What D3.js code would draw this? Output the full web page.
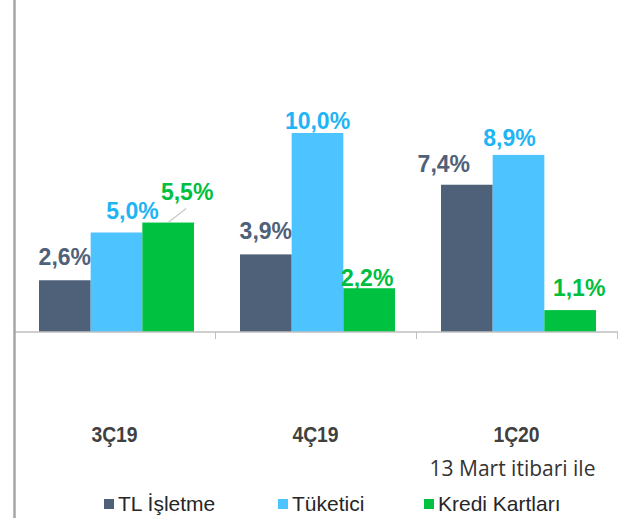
<!DOCTYPE html>
<html><head><meta charset="utf-8">
<script src="https://cdn.jsdelivr.net/npm/d3@7/dist/d3.min.js"></script>
<style>html,body{margin:0;padding:0;background:#fff;}svg{display:block;}</style>
</head><body>
<svg id="chart" width="618" height="518"></svg>
<script>
const categories = ["3Ç19", "4Ç19", "1Ç20"];
const seriesNames = ["TL İşletme", "Tüketici", "Kredi Kartları"];
const tlIsletme = [2.6, 3.9, 7.4];
const tuketici = [5.0, 10.0, 8.9];
const krediKartlari = [5.5, 2.2, 1.1];
const valueLabels = [["2,6%", "3,9%", "7,4%"], ["5,0%", "10,0%", "8,9%"], ["5,5%", "2,2%", "1,1%"]];
const subNote = "13 Mart itibari ile";

// layout (not data)
const barColors = ["#4F6079", "#4DC3FF", "#00C240"];
const labelColors = ["#4F6079", "#1EB4F5", "#00BF3F"];
// per-label offsets [dx, gap above bar]
const labelOffsets = [
  [[0, 15], [0, 15], [-23, 13]],
  [[16, 14], [0, 4], [-9, 9]],
  [[19, 23], [-2, 2], [9, 14]]
];

const series = [tlIsletme, tuketici, krediKartlari];
const svg = d3.select("#chart");
const x0 = d3.scaleBand().domain(categories).range([14, 617]).paddingInner(0).paddingOuter(0);
const x1 = d3.scaleBand().domain(seriesNames).range([25, 180]).padding(0);
const y = d3.scaleLinear().domain([0, 10]).range([332, 133]);

// bars
series.forEach((vals, si) => {
  svg.append("g").selectAll("rect").data(vals).join("rect")
    .attr("x", (d, i) => x0(categories[i]) + x1(seriesNames[si]))
    .attr("y", d => y(d))
    .attr("width", x1.bandwidth())
    .attr("height", d => y(0) - y(d))
    .attr("fill", barColors[si]);
});

// baseline and ticks
svg.append("line").attr("x1", 14).attr("x2", 618).attr("y1", y(0)).attr("y2", y(0))
  .attr("stroke", "#BFBFBF").attr("stroke-width", 1.5);
const bounds = [x0.range()[0], ...categories.slice(1).map(c => x0(c)), x0.range()[1]];
svg.append("g").selectAll("line").data(bounds.slice(1)).join("line")
  .attr("x1", d => d + 0.5).attr("x2", d => d + 0.5)
  .attr("y1", y(0)).attr("y2", y(0) + 7)
  .attr("stroke", "#BFBFBF").attr("stroke-width", 1);

// left axis line
svg.append("line").attr("x1", 14.5).attr("x2", 14.5).attr("y1", 0).attr("y2", 518)
  .attr("stroke", "#A6A6A6").attr("stroke-width", 2.5);

// value labels
series.forEach((vals, si) => {
  svg.append("g").selectAll("text").data(vals).join("text")
    .attr("x", (d, i) => x0(categories[i]) + x1(seriesNames[si]) + x1.bandwidth() / 2 + labelOffsets[si][i][0])
    .attr("y", (d, i) => y(d) - labelOffsets[si][i][1])
    .attr("text-anchor", "middle")
    .attr("font-family", "'Liberation Sans', Arial, sans-serif")
    .attr("font-weight", "bold")
    .attr("font-size", 23)
    .attr("fill", labelColors[si])
    .text((d, i) => valueLabels[si][i]);
});

// leader line for 5,5%
svg.append("line")
  .attr("x1", x0(categories[0]) + x1(seriesNames[2]) + x1.bandwidth() / 2)
  .attr("y1", y(krediKartlari[0]))
  .attr("x2", x0(categories[0]) + x1(seriesNames[2]) + x1.bandwidth() / 2 + 18)
  .attr("y2", y(krediKartlari[0]) - 14)
  .attr("stroke", "#C8C8C8").attr("stroke-width", 1.2);

// category labels (condensed bold)
svg.append("g").selectAll("text").data(categories).join("text")
  .attr("transform", d => `translate(${x0(d) + x0.bandwidth() / 2},442) scale(0.86,1)`)
  .attr("text-anchor", "middle")
  .attr("font-family", "'Liberation Sans', Arial, sans-serif")
  .attr("font-weight", "bold")
  .attr("font-size", 22.5)
  .attr("fill", "#404040")
  .text(d => d);

svg.append("text")
  .attr("x", x0(categories[2]) + x0.bandwidth() / 2 - 4)
  .attr("y", 476)
  .attr("text-anchor", "middle")
  .attr("font-family", "'Open Sans', sans-serif")
  .attr("font-size", 21)
  .attr("fill", "#333333")
  .text(subNote);

// legend
const legendX = [104, 278, 424];
const lg = svg.append("g").selectAll("g").data(seriesNames).join("g")
  .attr("transform", (d, i) => `translate(${legendX[i]},0)`);
lg.append("rect").attr("x", 0).attr("y", 499).attr("width", 10).attr("height", 10)
  .attr("fill", (d, i) => barColors[i]);
lg.append("text").attr("x", 14).attr("y", 511)
  .attr("font-family", "'Liberation Sans', Arial, sans-serif")
  .attr("font-size", 21)
  .attr("fill", "#262626")
  .text(d => d);
</script>
</body></html>
